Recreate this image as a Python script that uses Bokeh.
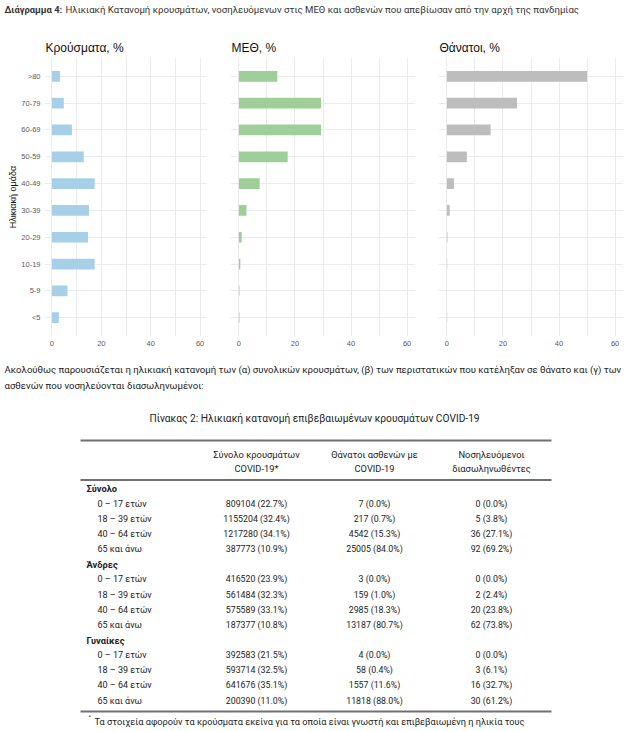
from bokeh.plotting import figure
from bokeh.layouts import column, row
from bokeh.models import FactorRange, Range1d, FixedTicker
from bokeh.core.properties import value
from bokeh.embed import file_html
from bokeh.resources import INLINE

# ---------------- data ----------------
age_groups = ["<5", "5-9", "10-19", "20-29", "30-39", "40-49", "50-59", "60-69", "70-79", ">80"]
cases_pct = [2.8, 6.3, 17.3, 14.6, 15.0, 17.3, 12.9, 8.1, 4.8, 3.3]
icu_pct = [0.2, 0.2, 0.5, 1.0, 2.7, 7.4, 17.4, 29.3, 29.3, 13.7]
deaths_pct = [0.1, 0.0, 0.1, 0.2, 1.0, 2.5, 7.1, 15.6, 25.0, 50.0]

panel_titles = ["Κρούσματα, %", "ΜΕΘ, %", "Θάνατοι, %"]
x_ticks = [0, 20, 40, 60]
x_minor = [10, 30, 50]

main_title_bold = "Διάγραμμα 4:"
main_title_rest = "Ηλικιακή Κατανομή κρουσμάτων, νοσηλευόμενων στις ΜΕΘ και ασθενών που απεβίωσαν από την αρχή της πανδημίας"
y_axis_title = "Ηλικιακή ομάδα"

paragraph = [
    "Ακολούθως παρουσιάζεται η ηλικιακή κατανομή των (α) συνολικών κρουσμάτων, (β) των περιστατικών που κατέληξαν σε θάνατο και (γ) των",
    "ασθενών που νοσηλεύονται διασωληνωμένοι:",
]
table_title = "Πίνακας 2: Ηλικιακή κατανομή επιβεβαιωμένων κρουσμάτων COVID-19"
col_headers_1 = ["Σύνολο κρουσμάτων", "Θάνατοι ασθενών με", "Νοσηλευόμενοι"]
col_headers_2 = ["COVID-19*", "COVID-19", "διασωληνωθέντες"]
groups = ["Σύνολο", "Άνδρες", "Γυναίκες"]
age_bands = ["0 – 17 ετών", "18 – 39 ετών", "40 – 64 ετών", "65 και άνω"]
cases_n = [[809104, 1155204, 1217280, 387773],
           [416520, 561484, 575589, 187377],
           [392583, 593714, 641676, 200390]]
cases_p = [[22.7, 32.4, 34.1, 10.9],
           [23.9, 32.3, 33.1, 10.8],
           [21.5, 32.5, 35.1, 11.0]]
deaths_n = [[7, 217, 4542, 25005],
            [3, 159, 2985, 13187],
            [4, 58, 1557, 11818]]
deaths_p = [[0.0, 0.7, 15.3, 84.0],
            [0.0, 1.0, 18.3, 80.7],
            [0.0, 0.4, 11.6, 88.0]]
intub_n = [[0, 5, 36, 92],
           [0, 2, 20, 62],
           [0, 3, 16, 30]]
intub_p = [[0.0, 3.8, 27.1, 69.2],
           [0.0, 2.4, 23.8, 73.8],
           [0.0, 6.1, 32.7, 61.2]]
footnote = "Τα στοιχεία αφορούν τα κρούσματα εκείνα για τα οποία είναι γνωστή και επιβεβαιωμένη η ηλικία τους"

# ---------------- styles ----------------
bar_colors = ["#a6cfe8", "#9ecf98", "#bdbdbd"]
GRID = "#ebebeb"
AX_TXT = "#5a5a5a"
TXT = "#222222"
PLOT_FONT = "Liberation Sans"
DOC_FONT = "Roboto"


def make_panel(title, vals, color, left, frame_w, right, show_y):
    p = figure(
        y_range=FactorRange(factors=age_groups, range_padding=0.2, range_padding_units="absolute"),
        x_range=Range1d(-3, 63),
        frame_width=frame_w, frame_height=279,
        min_border_left=left, min_border_right=right, min_border_top=20, min_border_bottom=16,
        output_backend="svg", toolbar_location=None, title=title,
    )
    p.hbar(y=age_groups, left=0, right=vals, height=0.4, fill_color=color, line_color=None)
    p.outline_line_color = None
    p.title.text_font = PLOT_FONT
    p.title.text_font_size = "12px"
    p.title.text_font_style = "normal"
    p.title.text_color = "#111111"
    p.title.offset = 1
    p.title.standoff = 6
    tk = FixedTicker(ticks=x_ticks, minor_ticks=x_minor)
    p.xaxis.ticker = tk
    p.xgrid.ticker = tk
    p.xgrid.grid_line_color = GRID
    p.xgrid.minor_grid_line_color = GRID
    p.ygrid.grid_line_color = GRID
    for ax in (p.xaxis[0], p.yaxis[0]):
        ax.axis_line_color = None
        ax.major_tick_line_color = None
        ax.minor_tick_line_color = None
        ax.major_tick_out = 0
        ax.major_tick_in = 0
        ax.minor_tick_out = 0
        ax.minor_tick_in = 0
        ax.major_label_text_font = PLOT_FONT
        ax.major_label_text_font_size = "7.5px"
        ax.major_label_text_color = AX_TXT
    p.xaxis.major_label_standoff = 4
    if show_y:
        p.yaxis.major_label_standoff = 4
        p.yaxis.axis_label = y_axis_title
        p.yaxis.axis_label_text_font = PLOT_FONT
        p.yaxis.axis_label_text_font_size = "9px"
        p.yaxis.axis_label_text_font_style = "normal"
        p.yaxis.axis_label_text_color = "#111111"
        p.yaxis.axis_label_standoff = 0
    else:
        p.yaxis.visible = False
    return p


p1 = make_panel(panel_titles[0], cases_pct, bar_colors[0], 44, 163, 11, True)
p2 = make_panel(panel_titles[1], icu_pct, bar_colors[1], 12, 185, 11, False)
p3 = make_panel(panel_titles[2], deaths_pct, bar_colors[2], 12, 185, 6, False)


def blank(h, y0, y1):
    f = figure(width=629, height=h, x_range=Range1d(0, 629), y_range=Range1d(y1, y0),
               output_backend="svg", toolbar_location=None, min_border=0)
    f.axis.visible = False
    f.grid.visible = False
    f.outline_line_color = None
    return f


# header with the main title
hdr = blank(35, 0, 35)
hdr.text(x=[4], y=[8.5], text=[main_title_bold], text_font=value(DOC_FONT), text_font_style="bold",
         text_font_size="9.4px", text_baseline="middle", text_color="#333333")
hdr.text(x=[65], y=[8.5], text=[main_title_rest], text_font=value(DOC_FONT),
         text_font_size="9.6px", text_baseline="middle", text_color="#333333")

# lower part: paragraph + table
tb = blank(381, 350, 731)
tb.text(x=[4, 4], y=[367, 383], text=paragraph, text_font=value(DOC_FONT), text_font_size="9.6px",
        text_baseline="middle", text_color=TXT)
tb.text(x=[314], y=[416], text=[table_title], text_font=value(DOC_FONT), text_font_size="10.2px",
        text_baseline="middle", text_align="center", text_color=TXT)

rule_y = [438, 477.5, 709]
tb.segment(x0=[80] * 3, x1=[551] * 3, y0=rule_y, y1=rule_y, line_width=2, line_color="#707070")

col_x = [256, 374, 491]
tb.text(x=col_x, y=[452] * 3, text=col_headers_1, text_font=value(DOC_FONT), text_font_size="9.3px",
        text_baseline="middle", text_align="center", text_color=TXT)
tb.text(x=col_x, y=[466] * 3, text=col_headers_2, text_font=value(DOC_FONT), text_font_size="9.3px",
        text_baseline="middle", text_align="center", text_color=TXT)

row_step = 15.15
y = 486
gx, gy, gt = [], [], []
lx, ly, lt = [], [], []
vx, vy, vt = [], [], []
for gi, g in enumerate(groups):
    gx.append(86); gy.append(y); gt.append(g)
    y += row_step
    for ai, band in enumerate(age_bands):
        lx.append(97); ly.append(y); lt.append(band)
        cells = [f"{cases_n[gi][ai]} ({cases_p[gi][ai]:.1f}%)",
                 f"{deaths_n[gi][ai]} ({deaths_p[gi][ai]:.1f}%)",
                 f"{intub_n[gi][ai]} ({intub_p[gi][ai]:.1f}%)"]
        for cx, c in zip(col_x, cells):
            vx.append(cx); vy.append(y); vt.append(c)
        y += row_step

tb.text(x=gx, y=gy, text=gt, text_font=value(DOC_FONT), text_font_style="bold", text_font_size="9.3px",
        text_baseline="middle", text_color=TXT)
tb.text(x=lx, y=ly, text=lt, text_font=value(DOC_FONT), text_font_size="9px",
        text_baseline="middle", text_color=TXT)
tb.text(x=vx, y=vy, text=vt, text_font=value(DOC_FONT), text_font_size="8.8px",
        text_baseline="middle", text_align="center", text_color=TXT)

tb.text(x=[88], y=[713.5], text=["*"], text_font=value(DOC_FONT), text_font_size="6px",
        text_baseline="middle", text_color=TXT)
tb.text(x=[94], y=[719], text=[footnote], text_font=value(DOC_FONT), text_font_size="9.2px",
        text_baseline="middle", text_color=TXT)

layout = column(hdr, row(p1, p2, p3), tb)
open("out.html", "w").write(file_html(layout, INLINE))
